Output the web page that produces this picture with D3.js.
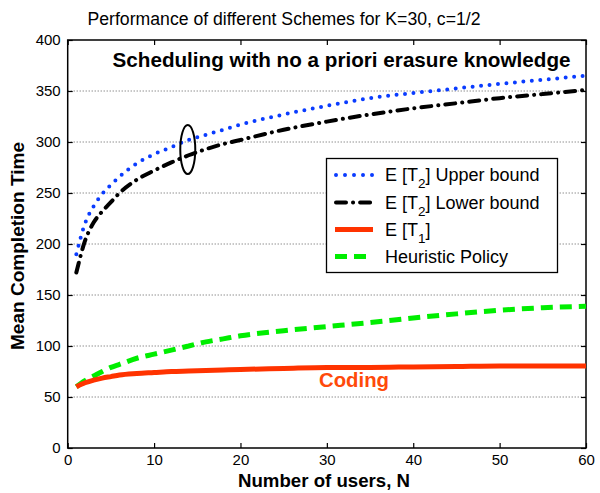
<!DOCTYPE html>
<html>
<head>
<meta charset="utf-8">
<script src="https://cdn.jsdelivr.net/npm/d3@7"></script>
<style>
  html, body { margin: 0; padding: 0; background: #fff; }
  svg { display: block; font-family: "Liberation Sans", Arial, Helvetica, sans-serif; }
</style>
</head>
<body>
<svg id="chart" width="600" height="493"></svg>
<script>
// ---- data ----
const N = [1, 2, 3, 4, 5, 6, 8, 10, 12, 14, 16, 18, 20, 25, 30, 35, 40, 45, 50, 55, 60];
const upperBound = [190, 220, 237, 249, 258, 266, 279, 288, 295, 302, 307, 312, 317, 327, 335.5, 343, 348, 352.5, 357, 361, 365];
const lowerBound = [172, 203, 221, 232, 241, 250, 263, 272, 280, 287, 293, 298, 302, 312, 320, 327, 333, 338, 343, 347, 351];
const expectedT1 = [60, 64, 66.5, 68.5, 70, 71.5, 73, 74, 75, 75.5, 76, 76.5, 77, 78, 79, 79, 79.5, 80, 80.5, 80.5, 80.5];
const heuristic = [60, 66, 70.5, 75, 79, 82, 88, 92, 96, 100, 104, 107, 110, 115, 119, 123, 127.5, 131.5, 135, 137.5, 139];
const xTicks = [0, 10, 20, 30, 40, 50, 60];
const yTicks = [0, 50, 100, 150, 200, 250, 300, 350, 400];
const gridTicks = [50, 100, 150, 200, 250, 300, 350];
const ellipseCenter = [13.9, 292.6];
const titleText = "Performance of different Schemes for K=30, c=1/2";
const noteText = "Scheduling with no a priori erasure knowledge";
const codingText = "Coding";

const series = [
  { name: "upper", label: ["E [T", "2", "] Upper bound"], values: upperBound, color: "#0a3cff", width: 4, dash: "0 8.5", cap: "round", legendDash: "0 9" },
  { name: "lower", label: ["E [T", "2", "] Lower bound"], values: lowerBound, color: "#000000", width: 4, dash: "10 7 0.1 7", cap: "round", legendDash: "10 7 0.1 7" },
  { name: "t1", label: ["E [T", "1", "]"], values: expectedT1, color: "#ff3300", width: 5, dash: null, cap: "butt", legendDash: null },
  { name: "heur", label: ["Heuristic Policy", "", ""], values: heuristic, color: "#00ee00", width: 5, dash: "12 7", cap: "butt", legendDash: "12 7" }
];

// ---- layout ----
const svg = d3.select("#chart");
const x = d3.scaleLinear().domain([0, 60]).range([67.7, 586]);
const y = d3.scaleLinear().domain([0, 400]).range([448, 40]);

// grid
svg.append("g").selectAll("line").data(gridTicks).join("line")
  .attr("x1", x(0)).attr("x2", x(60))
  .attr("y1", d => y(d)).attr("y2", d => y(d))
  .attr("stroke", "#333").attr("stroke-width", 0.8).attr("stroke-dasharray", "1 2");

// axes
const fontTick = "15px";
const gl = svg.append("g").attr("transform", `translate(${x(0)},0)`)
  .call(d3.axisLeft(y).tickValues(yTicks).tickSize(-5).tickPadding(7));
const gb = svg.append("g").attr("transform", `translate(0,${y(0)})`)
  .call(d3.axisBottom(x).tickValues(xTicks).tickSize(-5).tickPadding(6));
const gt = svg.append("g").attr("transform", `translate(0,${y(400)})`)
  .call(d3.axisTop(x).tickValues(xTicks).tickSize(-5).tickFormat(""));
const gr = svg.append("g").attr("transform", `translate(${x(60)},0)`)
  .call(d3.axisRight(y).tickValues(yTicks).tickSize(-5).tickFormat(""));
[gl, gb, gt, gr].forEach(g => {
  g.select(".domain").remove();
  g.selectAll("line").attr("stroke", "#000").attr("stroke-width", 1.2);
  g.selectAll("text").attr("font-size", fontTick).attr("fill", "#000")
    .attr("font-family", "'Liberation Sans', Arial, sans-serif");
});

// frame
svg.append("rect").attr("x", x(0)).attr("y", y(400))
  .attr("width", x(60) - x(0)).attr("height", y(0) - y(400))
  .attr("fill", "none").attr("stroke", "#000").attr("stroke-width", 1.5);

// lines
const line = d3.line().x((d, i) => x(N[i])).y(d => y(d)).curve(d3.curveMonotoneX);
series.slice().reverse().forEach(s => {
  svg.append("path").datum(s.values)
    .attr("d", line)
    .attr("fill", "none")
    .attr("stroke", s.color)
    .attr("stroke-width", s.width)
    .attr("stroke-linecap", s.cap)
    .attr("stroke-linejoin", "round")
    .attr("stroke-dasharray", s.dash);
});

// ellipse annotation
svg.append("ellipse")
  .attr("cx", x(ellipseCenter[0])).attr("cy", y(ellipseCenter[1]))
  .attr("rx", 7.5).attr("ry", 24.5)
  .attr("fill", "none").attr("stroke", "#000").attr("stroke-width", 2);

// title
svg.append("text").attr("x", 284).attr("y", 25).attr("text-anchor", "middle")
  .attr("font-size", "17.5px").attr("fill", "#000")
  .attr("textLength", 393).attr("lengthAdjust", "spacingAndGlyphs").text(titleText);

// note
svg.append("text").attr("x", 341.5).attr("y", 66.5).attr("text-anchor", "middle")
  .attr("font-size", "19.5px").attr("font-weight", "bold").attr("fill", "#000")
  .attr("textLength", 458).attr("lengthAdjust", "spacingAndGlyphs").text(noteText);

// coding label
svg.append("text").attr("x", 354).attr("y", 386.5).attr("text-anchor", "middle")
  .attr("font-size", "19.5px").attr("font-weight", "bold").attr("fill", "#ff4a0a")
  .attr("textLength", 70).attr("lengthAdjust", "spacingAndGlyphs").text(codingText);

// axis labels
svg.append("text").attr("x", 324).attr("y", 487).attr("text-anchor", "middle")
  .attr("font-size", "18px").attr("font-weight", "bold").attr("fill", "#000")
  .attr("textLength", 172).attr("lengthAdjust", "spacingAndGlyphs").text("Number of users, N");
svg.append("text").attr("transform", "translate(24,246) rotate(-90)").attr("text-anchor", "middle")
  .attr("font-size", "18.5px").attr("font-weight", "bold").attr("fill", "#000")
  .attr("textLength", 208).attr("lengthAdjust", "spacingAndGlyphs").text("Mean Completion Time");

// legend
const lg = svg.append("g");
lg.append("rect").attr("x", 326.5).attr("y", 158.5).attr("width", 231).attr("height", 114)
  .attr("fill", "#fff").attr("stroke", "#000").attr("stroke-width", 1.3);
const rowY = [175, 202.5, 229.5, 256.5];
series.forEach((s, i) => {
  const yy = rowY[i];
  lg.append("line").attr("x1", s.cap === "round" ? 336 : 335).attr("x2", 373)
    .attr("y1", yy).attr("y2", yy)
    .attr("stroke", s.color).attr("stroke-width", s.width)
    .attr("stroke-linecap", s.cap).attr("stroke-dasharray", s.legendDash);
  const t = lg.append("text").attr("x", 385).attr("y", yy + 6)
    .attr("font-size", "18px").attr("fill", "#000");
  t.append("tspan").text(s.label[0]);
  if (s.label[1]) {
    t.append("tspan").attr("dy", 7).attr("font-size", "13.5px").text(s.label[1]);
    t.append("tspan").attr("dy", -7).text(s.label[2]);
  }
});
</script>
</body>
</html>
